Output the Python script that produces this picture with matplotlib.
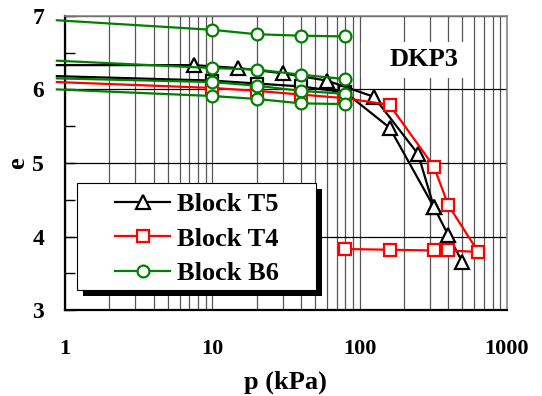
import matplotlib
matplotlib.use("Agg")
import matplotlib.pyplot as plt
from matplotlib.ticker import FixedLocator, NullFormatter, LogLocator
from matplotlib.patches import Rectangle

# --- data ---
p_t5a = [0.88, 7.5, 15, 30, 60, 125, 250, 320]
e_t5a = [6.33, 6.33, 6.29, 6.22, 6.12, 5.90, 5.12, 4.40]

p_t5b = [0.88, 10, 20, 40, 80, 160, 320, 400, 500]
e_t5b = [6.18, 6.12, 6.08, 6.04, 5.96, 5.48, 4.40, 4.02, 3.65]

p_t4 = [0.88, 10, 20, 40, 80, 160, 320, 400, 640, 400, 320, 160, 80]
e_t4 = [6.10, 6.02, 5.98, 5.93, 5.88, 5.79, 4.95, 4.43, 3.79, 3.81, 3.81, 3.82, 3.83]

p_b6 = [0.88, 10, 20, 40, 80]
e_b6 = [
    [6.94, 6.81, 6.75, 6.73, 6.72],
    [6.39, 6.29, 6.27, 6.20, 6.14],
    [6.15, 6.10, 6.05, 5.98, 5.94],
    [6.00, 5.91, 5.87, 5.81, 5.80],
]

labels = ["Block T5", "Block T4", "Block B6"]
x_ticks = [1, 10, 100, 1000]
y_ticks = [3, 4, 5, 6, 7]

plt.rcParams["font.family"] = ["Liberation Serif", "DejaVu Serif"]
plt.rcParams["font.weight"] = "bold"

fig = plt.figure(figsize=(5.42, 3.96), dpi=100)
ax = fig.add_axes([0.120, 0.217, 0.815, 0.743])

lw = 1.6
mew = 1.6
red = "#ff0000"
green = "#008000"

# black T5 (two specimens)
ax.plot(p_t5b, e_t5b, color="k", lw=lw, clip_on=False, zorder=3)
ax.plot(p_t5b[1:5], e_t5b[1:5], ls="none", marker="s", ms=8.5, mfc="white",
        mec="k", mew=mew, zorder=3)
ax.plot(p_t5b[5:], e_t5b[5:], ls="none", marker="^", ms=10, mfc="white",
        mec="k", mew=mew, zorder=4)
ax.plot(p_t5a, e_t5a, color="k", lw=lw, marker="^", ms=10, mfc="white",
        mec="k", mew=mew, markevery=list(range(1, len(p_t5a))),
        clip_on=False, zorder=4, label=labels[0])

# red T4
ax.plot(p_t4, e_t4, color=red, lw=lw, marker="s", ms=8.5, mfc="white",
        mec=red, mew=mew, markevery=list(range(1, len(p_t4))),
        clip_on=False, zorder=4, label=labels[1])

# green B6
for i, e in enumerate(e_b6):
    ax.plot(p_b6, e, color=green, lw=lw, marker="o", ms=8.5, mfc="white",
            mec=green, mew=mew, markevery=list(range(1, len(p_b6))),
            clip_on=False, zorder=5, label=labels[2] if i == 0 else None)

ax.set_xscale("log")
ax.set_xlim(1, 1000)
ax.set_ylim(3, 7)

ax.xaxis.set_major_locator(FixedLocator(x_ticks))
ax.set_xticklabels([str(v) for v in x_ticks])
ax.xaxis.set_minor_locator(LogLocator(base=10, subs=range(2, 10)))
ax.xaxis.set_minor_formatter(NullFormatter())
ax.set_yticks(y_ticks)
ax.set_yticks([3.5, 4.5, 5.5, 6.5], minor=True)

ax.tick_params(axis="x", which="both", direction="in", length=0, pad=21,
               labelsize=16)
ax.tick_params(axis="y", which="major", direction="in", length=7, width=1,
               pad=15, labelsize=17)
ax.tick_params(axis="y", which="minor", direction="in", length=7, width=1)

ax.grid(True, axis="x", which="both", color="#555555", lw=0.9, zorder=0)
ax.grid(True, axis="y", which="major", color="k", lw=0.9, zorder=0)
ax.set_axisbelow(True)

for s in ["left", "bottom"]:
    ax.spines[s].set_linewidth(1.6)
    ax.spines[s].set_color("k")
for s in ["top", "right"]:
    ax.spines[s].set_linewidth(1.2)
    ax.spines[s].set_color("#888888")

ax.set_xlabel("p (kPa)", fontsize=19, fontweight="bold", labelpad=8)
ax.set_ylabel("e", fontsize=19, fontweight="bold", labelpad=2)

# DKP3 label on a white box
ax.add_patch(Rectangle((0.670, 0.789), 0.246, 0.123, transform=ax.transAxes,
                       facecolor="white", edgecolor="none", zorder=1))
ax.text(0.812, 0.850, "DKP3", transform=ax.transAxes, ha="center",
        va="center", fontsize=19, fontweight="bold", zorder=6)

# legend box with a solid black shadow
bx, by, bw, bh = 0.027, 0.068, 0.541, 0.364
ax.add_patch(Rectangle((bx + 0.0136, by - 0.0204), bw, bh,
                       transform=ax.transAxes, facecolor="k",
                       edgecolor="none", zorder=6, clip_on=False))
ax.add_patch(Rectangle((bx, by), bw, bh, transform=ax.transAxes,
                       facecolor="white", edgecolor="k", lw=0.8, zorder=6.5,
                       clip_on=False))
leg = ax.legend(loc="upper left", bbox_to_anchor=(0.113, 0.40),
                borderaxespad=0, fontsize=19, frameon=False,
                handlelength=2.1, handletextpad=0.25, borderpad=0,
                labelspacing=0.43)
leg.set_zorder(7)

fig.savefig("out.png", dpi=100)
